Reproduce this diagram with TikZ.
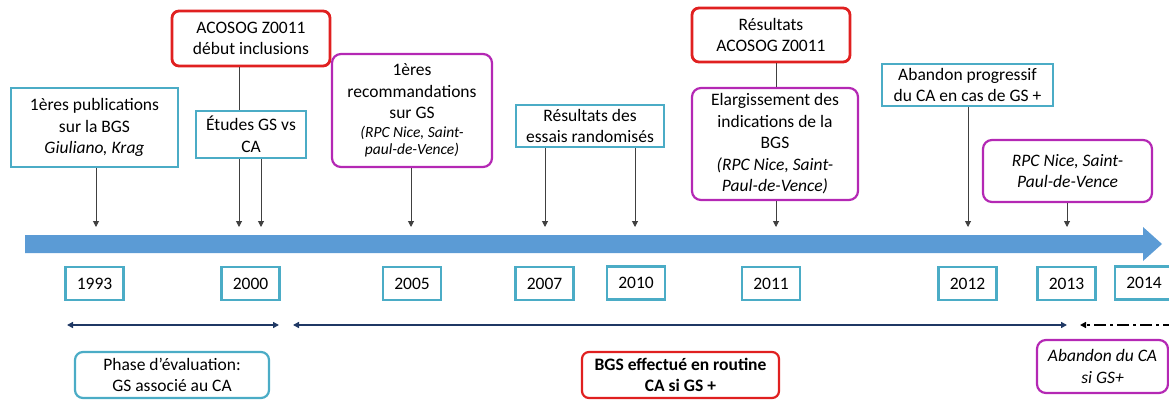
\documentclass[tikz,border=0pt]{standalone}
\usepackage{fontspec}
\setmainfont{Carlito}
\usetikzlibrary{arrows.meta}
\definecolor{boxcyan}{RGB}{75,172,198}
\definecolor{boxred}{RGB}{224,32,32}
\definecolor{boxpink}{RGB}{180,40,180}
\definecolor{barblue}{RGB}{91,155,213}
\definecolor{spanblue}{RGB}{31,56,100}
\begin{document}
\begin{tikzpicture}[x=1pt, y=-1pt, font=\fontsize{17.5}{21.5}\selectfont,
	cyanbox/.style = {draw=boxcyan, line width=2.2pt, align=center, inner sep=0pt},
	redbox/.style = {draw=boxred, line width=2.8pt, rounded corners=7pt, align=center, inner sep=0pt},
	pinkbox/.style = {draw=boxpink, line width=2.2pt, rounded corners=9pt, align=center, inner sep=0pt},
	yearbox/.style = {cyanbox, minimum width=58pt, minimum height=33pt},
	tick/.style = {draw=black!75, line width=1pt, -{Triangle[length=6pt,width=6pt]}},
	span/.style = {draw=spanblue, line width=1.6pt, {Triangle[length=6pt,width=6pt]}-{Triangle[length=6pt,width=6pt]}}]

		\clip (0,0) rectangle (1169,399);

		\fill[barblue] (25,235) -- (1143,235) -- (1143,227) -- (1162,244) -- (1143,261) -- (1143,253) -- (25,253) -- cycle;

		\node[yearbox] (y1993) at (94.5,283.5) {1993};
		\node[yearbox] (y2000) at (250.5,283.5) {2000};
		\node[yearbox] (y2005) at (412,283.5) {2005};
		\node[yearbox] (y2007) at (544.5,283.5) {2007};
		\node[yearbox] (y2010) at (636,283) {2010};
		\node[yearbox] (y2011) at (771,283.5) {2011};
		\node[yearbox] (y2012) at (967.5,283.5) {2012};
		\node[yearbox] (y2013) at (1066.5,283.5) {2013};
		\node[yearbox] (y2014) at (1144,283) {2014};

		\node[cyanbox, minimum width=167pt, minimum height=79pt] (pub) at (94.5,127.5) {1ères publications\\sur la BGS\\\textit{Giuliano, Krag}};
		\node[redbox, minimum width=158pt, minimum height=55pt] (acosogA) at (251,38.5) {ACOSOG Z0011\\début inclusions};
		\node[cyanbox, minimum width=110pt, minimum height=47pt] (etudes) at (251,134.5) {Études GS vs\\CA};
		\node[pinkbox, minimum width=160pt, minimum height=113pt] (reco) at (412,110.5) {1ères\\recommandations\\sur GS\\[-3pt]{\fontsize{15.5}{17}\selectfont\itshape (RPC Nice, Saint-}\\[-4pt]{\fontsize{15.5}{17}\selectfont\itshape paul-de-Vence)}};
		\node[cyanbox, minimum width=148pt, minimum height=42pt] (essais) at (590,126) {Résultats des\\essais randomisés};
		\node[redbox, minimum width=158pt, minimum height=54pt] (acosogB) at (771,35) {Résultats\\ACOSOG Z0011};
		\node[pinkbox, minimum width=166pt, minimum height=112pt] (elarg) at (775,144) {Elargissement des\\indications de la\\BGS\\\textit{(RPC Nice, Saint-}\\\textit{Paul-de-Vence)}};
		\node[cyanbox, minimum width=171pt, minimum height=42pt] (abandonP) at (967.5,85) {Abandon progressif\\du CA en cas de GS +};
		\node[pinkbox, minimum width=169pt, minimum height=62pt] (rpc) at (1067.5,171) {\textit{RPC Nice, Saint-}\\\textit{Paul-de-Vence}};

		\coordinate (t1993) at (96,227);
		\coordinate (t2000a) at (239,227);
		\coordinate (t2000b) at (261,227);
		\coordinate (t2005) at (411,227);
		\coordinate (t2007) at (545,227);
		\coordinate (t2010) at (635,227);
		\coordinate (t2011) at (776,227);
		\coordinate (t2012) at (968,227);
		\coordinate (t2013) at (1067,227);

		\draw[tick] (pub.south -| t1993) -- (t1993);
		\draw[draw=black!75, line width=1pt] (acosogA.south -| t2000a) -- (etudes.north -| t2000a);
		\draw[tick] (etudes.south -| t2000a) -- (t2000a);
		\draw[tick] (etudes.south -| t2000b) -- (t2000b);
		\draw[tick] (reco.south -| t2005) -- (t2005);
		\draw[tick] (essais.south -| t2007) -- (t2007);
		\draw[tick] (essais.south -| t2010) -- (t2010);
		\draw[draw=black!75, line width=1pt] (acosogB.south -| t2011) -- (elarg.north -| t2011);
		\draw[tick] (elarg.south -| t2011) -- (t2011);
		\draw[tick] (abandonP.south -| t2012) -- (t2012);
		\draw[tick] (rpc.south -| t2013) -- (t2013);

		\coordinate (s1a) at (67,325);
		\coordinate (s1b) at (279,325);
		\coordinate (s2a) at (293,325);
		\coordinate (s2b) at (1067,325);
		\coordinate (s3a) at (1080,325);
		\coordinate (s3b) at (1175,325);

		\draw[span] (s1a) -- (s1b);
		\draw[span] (s2a) -- (s2b);
		\draw[draw=black, line width=1.6pt, dash pattern=on 12pt off 4pt on 3pt off 4pt, -{Triangle[length=6pt,width=6pt]}] (s3b) -- (s3a);

		\node[cyanbox, rounded corners=8pt, minimum width=194pt, minimum height=46pt] (phase) at (172,375) {Phase d’évaluation:\\GS associé au CA};
		\node[redbox, line width=2.2pt, minimum width=197pt, minimum height=46pt, font=\fontsize{17.5}{21.5}\selectfont\bfseries] (routine) at (680.5,375) {BGS effectué en routine\\CA si GS +};
		\node[pinkbox, minimum width=131pt, minimum height=53pt, font=\fontsize{17.5}{21.5}\selectfont\itshape] (abandonCA) at (1102.5,366.5) {Abandon du CA\\si GS+};
	\end{tikzpicture}
\end{document}
